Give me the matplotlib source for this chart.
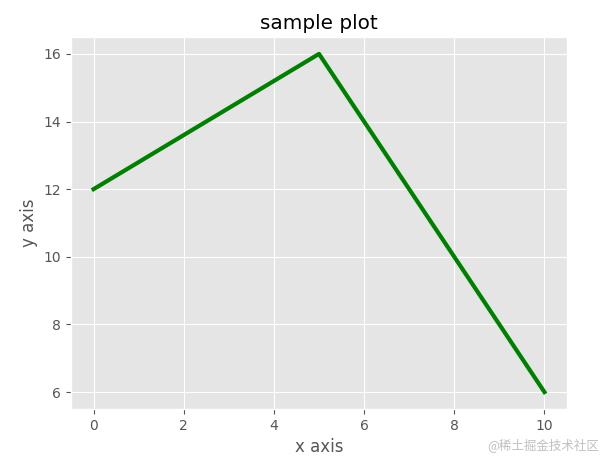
import matplotlib.pyplot as plt

plt.style.use('ggplot')

x = [0, 5, 10]
y = [12, 16, 6]

fig = plt.figure(figsize=(6.02, 4.59), dpi=100)
ax = fig.add_axes([71/602, 1-409/459, (567-71)/602, (409-37)/459])
ax.plot(x, y, color='green', linewidth=3)
ax.set_title('sample plot', color='black')
ax.set_xlabel('x axis', fontsize=12)
ax.set_ylabel('y axis', fontsize=12)

fig.text(0.995, 0.015, '@稀土掘金技术社区', ha='right', va='bottom', fontsize=9,
         color='#c0c0c0', family=['Noto Sans CJK SC', 'DejaVu Sans'])

fig.savefig('out.png', dpi=100, facecolor='white')
